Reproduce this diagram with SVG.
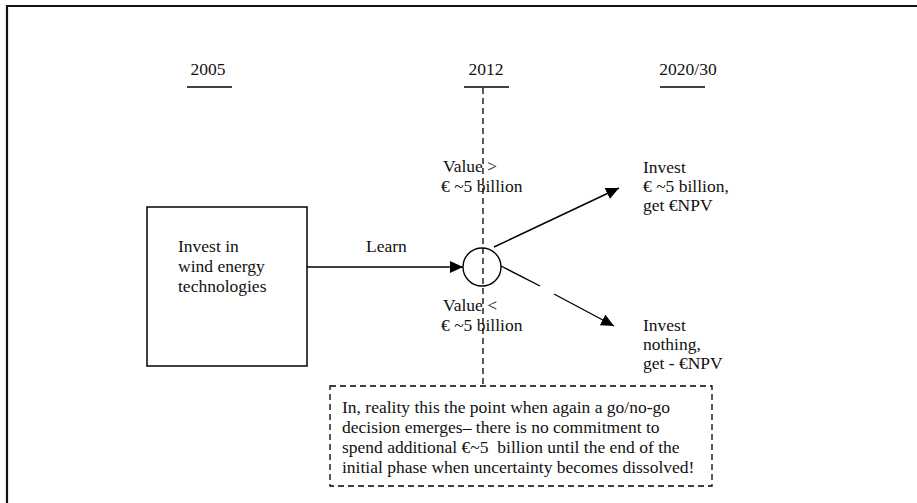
<svg xmlns="http://www.w3.org/2000/svg" width="917" height="503" viewBox="0 0 917 503">
  <style>
    text { font-family: "Liberation Serif", "Times New Roman", serif; font-size: 17.5px; fill: #111; }
    .mid { text-anchor: middle; }
    .solid { stroke: #000; stroke-width: 1.4; fill: none; }
    .dash { stroke: #000; stroke-width: 1.3; fill: none; stroke-dasharray: 6 4; }
  </style>
  <defs>
    <marker id="head" viewBox="0 0 13 12" refX="13" refY="6" markerWidth="13" markerHeight="12" markerUnits="userSpaceOnUse" orient="auto">
      <path d="M0,0 L13,6 L0,12 Z" fill="#000"/>
    </marker>
  </defs>

  <rect width="917" height="503" fill="#fff"/>
  <!-- outer frame (top and left edges) -->
  <path d="M7,503 V6 H917" stroke="#111" stroke-width="2.2" fill="none"/>

  <!-- time axis -->
  <g id="year-2005">
    <text class="mid" x="208" y="75">2005</text>
    <line class="solid" x1="187" y1="87" x2="232" y2="87"/>
  </g>
  <g id="year-2012">
    <text class="mid" x="486" y="75">2012</text>
    <line class="solid" x1="464" y1="87" x2="509" y2="87"/>
  </g>
  <g id="year-2020">
    <text class="mid" x="688" y="75">2020/30</text>
    <line class="solid" x1="660" y1="87" x2="705" y2="87"/>
  </g>

  <!-- decision point timeline -->
  <line class="dash" x1="483" y1="88" x2="483" y2="386"/>

  <g id="invest-box">
    <rect x="147" y="207" width="160" height="159" fill="#fff" stroke="#000" stroke-width="1.5"/>
    <text x="178" y="252">Invest in</text>
    <text x="178" y="272">wind energy</text>
    <text x="178" y="292">technologies</text>
  </g>

  <g id="decision-node">
    <circle cx="482" cy="267" r="19" fill="none" stroke="#000" stroke-width="1.4"/>
  </g>

  <g id="connectors">
    <line class="solid" x1="307" y1="267" x2="463" y2="267" marker-end="url(#head)"/>
    <line class="solid" x1="494" y1="247" x2="619" y2="188" marker-end="url(#head)"/>
    <line class="solid" x1="501" y1="266" x2="540" y2="286"/>
    <line class="solid" x1="554" y1="294" x2="614" y2="326" marker-end="url(#head)"/>
  </g>

  <g id="labels">
    <text x="366" y="252">Learn</text>
    <text x="443" y="172">Value &gt;</text>
    <text x="441" y="192">€ ~5 billion</text>
    <text x="443" y="311">Value &lt;</text>
    <text x="441" y="331">€ ~5 billion</text>
  </g>

  <g id="outcome-invest">
    <text x="643" y="173">Invest</text>
    <text x="643" y="192">€ ~5 billion,</text>
    <text x="643" y="211">get €NPV</text>
  </g>
  <g id="outcome-nothing">
    <text x="643" y="331">Invest</text>
    <text x="643" y="350">nothing,</text>
    <text x="643" y="369">get - €NPV</text>
  </g>

  <g id="note">
    <rect class="dash" x="330" y="386" width="382" height="100"/>
    <text x="342" y="413">In, reality this the point when again a go/no-go</text>
    <text x="342" y="433">decision emerges– there is no commitment to</text>
    <text x="342" y="453" xml:space="preserve">spend additional €~5  billion until the end of the</text>
    <text x="342" y="473">initial phase when uncertainty becomes dissolved!</text>
  </g>
</svg>
